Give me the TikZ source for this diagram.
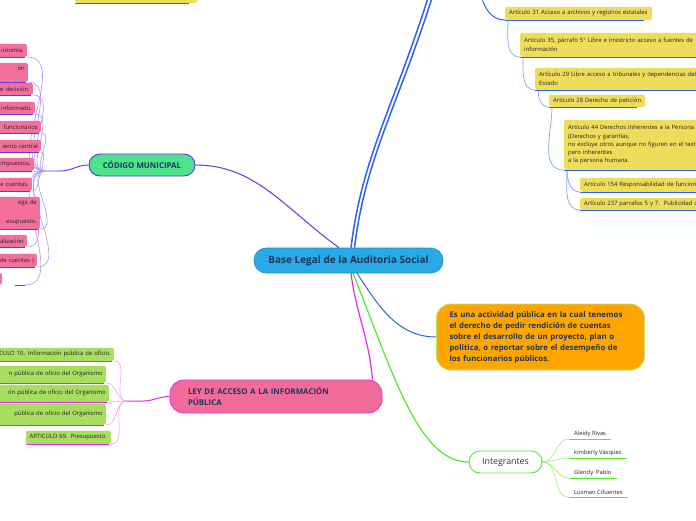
\documentclass[tikz,border=0pt]{standalone}
\usepackage{fontspec}
\setmainfont{Open Sans}
\usetikzlibrary{positioning, backgrounds}

\definecolor{rootblue}{HTML}{29A9E6}
\definecolor{roottext}{HTML}{1B365D}
\definecolor{codgreen}{HTML}{4EE28C}
\definecolor{codpurple}{HTML}{6A2FF0}
\definecolor{pinkleaf}{HTML}{F3709C}
\definecolor{pinkline}{HTML}{5A3CE8}
\definecolor{pinkconn}{HTML}{AE92FF}
\definecolor{leypink}{HTML}{F26C9A}
\definecolor{leymag}{HTML}{E42BE6}
\definecolor{greenleaf}{HTML}{A8DE5F}
\definecolor{magconn}{HTML}{F49CF4}
\definecolor{yellowleaf}{HTML}{EEDD5A}
\definecolor{blueline}{HTML}{2F62F2}
\definecolor{blueconn}{HTML}{7FA2F6}
\definecolor{orangebox}{HTML}{FFA500}
\definecolor{orangeedge}{HTML}{B8E36C}
\definecolor{intgreen}{HTML}{55E62E}
\definecolor{intconn}{HTML}{A6EE88}
\definecolor{leaftext}{HTML}{222222}
\definecolor{inttext}{HTML}{1E3F30}

\newcommand{\leaffont}{\fontsize{5.9}{9}\selectfont}

\begin{document}
\begin{tikzpicture}[x=1pt, y=-1pt,
  root/.style={fill=rootblue, draw=rootblue!85!black, line width=0.6pt, rounded corners=12pt,
               minimum width=189, minimum height=25, text=roottext,
               font=\fontsize{10}{12}\selectfont\bfseries},
  branch/.style={fill=#1, rounded corners=11pt, line width=0.9pt, minimum height=22,
                 text=roottext, font=\fontsize{7.9}{11}\selectfont\bfseries},
  pleaf/.style={fill=pinkleaf, rounded corners=2pt, inner xsep=3pt, inner ysep=0pt,
                text width=84, align=right, font=\leaffont, text=leaftext, anchor=south east},
  gleaf/.style={fill=greenleaf, rounded corners=2pt, inner xsep=3pt, inner ysep=0pt,
                text width=#1, align=right, font=\leaffont, text=leaftext, anchor=south east},
  gleaf/.default=150,
  yleaf/.style={fill=yellowleaf, rounded corners=2pt, inner xsep=4pt, inner ysep=0pt,
                text width=#1, align=left, font=\leaffont, text=leaftext, anchor=south west},
  mname/.style={inner xsep=5pt, inner ysep=2pt, anchor=south west, text=leaftext,
                font=\fontsize{5.8}{7}\selectfont},
  pline/.style={draw=pinkline, line width=0.9pt},
  gline/.style={draw=leymag, line width=0.9pt},
  yline/.style={draw=blueline, line width=0.9pt},
  nline/.style={draw=intgreen, line width=0.9pt},
  pconn/.style={draw=pinkconn, line width=0.6pt},
  gconn/.style={draw=magconn, line width=0.6pt},
  yconn/.style={draw=blueconn, line width=0.7pt},
  nconn/.style={draw=intconn, line width=0.7pt},
]
\useasboundingbox (0,0) rectangle (696,520);
\begin{scope}[on background layer]
  \fill[white] (0,0) rectangle (696,520);
\end{scope}

% --- Nodes ---

% Centre
\node[root] (root) at (348.5,260.5) {Base Legal de la Auditoria Social};

% Main branches
\node[branch=codgreen, draw=codpurple, minimum width=106] (cod) at (142,165) {CÓDIGO MUNICIPAL};
\node[branch=leypink, draw=leymag, minimum width=212, minimum height=33, rounded corners=14pt,
      text width=176, inner xsep=18pt, align=left] (ley) at (276,396.5)
  {LEY DE ACCESO A LA INFORMACIÓN\\PÚBLICA};
\node[fill=orangebox, draw=orangeedge, line width=0.8pt, rounded corners=14pt,
      minimum width=205, minimum height=66, text width=182, inner xsep=13pt, align=left,
      text=roottext, font=\fontsize{7.8}{11}\selectfont\bfseries] (def) at (540.5,337)
  {Es una actividad pública en la cual tenemos\\
   el derecho de pedir rendición de cuentas\\
   sobre el desarrollo de un proyecto, plan o\\
   política, o reportar sobre el desempeño de\\
   los funcionarios públicos.};
\node[branch=white, draw=intgreen, minimum width=73, text=inttext,
      font=\fontsize{8.8}{10}\selectfont] (integ) at (505.5,462) {Integrantes};

% Junctions and free ends
\coordinate (j1) at (45,171);
\coordinate (j1a) at (60,171);
\coordinate (j2) at (127,401);
\coordinate (j2a) at (143,401);
\coordinate (p12end) at (25,285);
\coordinate (ytop) at (482,-2);
\coordinate (up1) at (428,-2);
\coordinate (up2) at (432,-2);

% Código municipal leaves
\node[pleaf, minimum height=13] (p1) at (27,57) {onomía.};
\node[pleaf, minimum height=19] (p2) at (28,82) {ón\\\mbox{}};
\node[pleaf, minimum height=12] (p3) at (33,95) {e decisión.};
\node[pleaf, minimum height=12] (p4) at (35,114) {informado.};
\node[pleaf, minimum height=12] (p5) at (41,133) {funcionarios};
\node[pleaf, minimum height=12] (p6) at (41,152) {ierno central};
\node[pleaf, minimum height=13] (p7) at (34,171) {impuestos.};
\node[pleaf, minimum height=13] (p8) at (32,191) {e cuentas.};
\node[pleaf, minimum height=32, font=\fontsize{5.9}{9.5}\selectfont] (p9) at (40,229)
  {ega de\\\mbox{}\\esupuesto.};
\node[pleaf, minimum height=12] (p10) at (27,247) {alización};
\node[pleaf, minimum height=13] (p11) at (37,267) {de cuentas )};
\node[pleaf, minimum height=12] (p12) at (2,285) {};

% Ley de acceso leaves
\node[gleaf, minimum height=13] (g1) at (114,361) {ICULO 10. Información pública de oficio.};
\node[gleaf, minimum height=17] (g2) at (106,383) {n pública de oficio del Organismo};
\node[gleaf, minimum height=17] (g3) at (109,402) {ón pública de oficio del Organismo};
\node[gleaf, minimum height=21] (g4) at (106,425) {pública de oficio del Organismo};
\node[gleaf=79, minimum height=13, align=center] (g5) at (111,444) {ARTICULO 69. Presupuesto.};

% Constitution leaves
\node[yleaf=114, minimum height=14] (ytl) at (75,3) {};
\node[yleaf=139, minimum height=13] (y1) at (505,20) {Artículo 31 Acceso a archivos y registros estatales};
\node[yleaf=200, minimum height=24] (y2) at (520,57)
  {Artículo 35, párrafo 5° Libre e irrestricto acceso a fuentes de\\información};
\node[yleaf=200, minimum height=22] (y3) at (535,90)
  {Artículo 29 Libre acceso a tribunales y dependencias del\\Estado};
\node[yleaf=88, minimum height=12] (y4) at (549,107) {Artículo 28 Derecho de petición};
\node[yleaf=200, minimum height=50, font=\fontsize{5.9}{8.3}\selectfont] (y5) at (564,170)
  {Artículo 44 Derechos Inherentes a la Persona\\
   (Derechos y garantías,\\
   no excluye otros aunque no figuren en el texto\\
   pero inherentes\\
   a la persona humana.};
\node[yleaf=200, minimum height=14] (y6) at (580,192) {Artículo 154 Responsabilidad de funciona};
\node[yleaf=200, minimum height=12] (y7) at (580,210) {Artículo 237 parrafos 5 y 7.\ \ Publicidad de};

% Integrantes
\node[mname] (n1) at (569,439) {Aleidy Rivas};
\node[mname, below=19pt of n1.south west, anchor=south west] (n2) {kimberly Vásquez};
\node[mname, below=20pt of n2.south west, anchor=south west] (n3) {Glendy\ \ Pablo};
\node[mname, below=19pt of n3.south west, anchor=south west] (n4) {Lusman Cifuentes};

% --- Underlines ---
\foreach \n in {p1,p2,p3,p4,p5,p6,p7,p8,p9,p10,p11}
  \draw[pline] (\n.south west) -- ([xshift=-2pt]\n.south east);
\draw[pline] ([xshift=13pt]p12.south east) -- (p12end);
\foreach \n in {g1,g2,g3,g4,g5}
  \draw[gline] (\n.south west) -- ([xshift=-2pt]\n.south east);
\foreach \n in {ytl,y1,y2,y3,y4,y5,y6,y7}
  \draw[yline] (\n.south west) -- ([xshift=-8pt]\n.south east);
\foreach \n in {n1,n2,n3,n4}
  \draw[nline] (\n.south west) -- (\n.south east);

% --- Connectors ---
\begin{scope}[on background layer]
  % main branches
  \draw[codpurple, line width=1pt] ([xshift=-9.5pt]root.north)
    .. controls +(-55,-40) and +(60,0) .. (cod.east);
  \draw[blueline, line width=1.5pt] ([xshift=2.5pt]root.north)
    .. controls +(11,-90) and +(-35,110) .. (up1);
  \draw[blueline, line width=1.5pt] ([xshift=6pt]root.north)
    .. controls +(11,-90) and +(-35,110) .. (up2);
  \draw[blueline, line width=1pt] ([xshift=8.5pt]root.south)
    .. controls +(20,30) and +(-40,0) .. (def.west);
  \draw[intgreen, line width=1.2pt] ([xshift=4.5pt]root.south)
    .. controls +(40,100) and +(-50,0) .. (integ.west);
  \draw[leymag, line width=1.2pt] ([xshift=2.5pt]root.south)
    .. controls +(5,40) and +(-3,-40) .. ([xshift=-10pt]ley.north east);
  % código municipal
  \draw[codpurple, line width=0.9pt] (cod.west) to[out=180,in=0] (j1a) -- (j1);
  \foreach \n in {p1,p2,p3,p4,p5,p6,p7,p8,p9,p10,p11}
    \draw[pconn] (j1) to[out=180,in=0] (\n.south east);
  \draw[pconn] (j1) to[out=180,in=0] (p12end);
  % ley de acceso
  \draw[leymag, line width=1pt] (ley.west) to[out=180,in=0] (j2a) -- (j2);
  \foreach \n in {g1,g2,g3,g4,g5}
    \draw[gconn] (j2) to[out=180,in=0] (\n.south east);
  % constitution chain
  \draw[blueline, line width=1pt] (ytop) to[out=-75,in=180] (y1.south west);
  \draw[yconn] ([xshift=3pt]y1.south west) to[out=-90,in=180] (y2.south west);
  \draw[yconn] ([xshift=3pt]y2.south west) to[out=-90,in=180] (y3.south west);
  \draw[yconn] ([xshift=3pt]y3.south west) to[out=-90,in=180] (y4.south west);
  \draw[yconn] ([xshift=3pt]y4.south west) to[out=-90,in=180] (y5.south west);
  \draw[yconn] ([xshift=3pt]y5.south west) to[out=-90,in=180] (y6.south west);
  \draw[yconn] ([xshift=3pt]y5.south west) to[out=-90,in=180] (y7.south west);
  % integrantes
  \foreach \n in {n1,n2,n3,n4}
    \draw[nconn] (integ.east) to[out=0,in=180] (\n.south west);
\end{scope}

\end{tikzpicture}
\end{document}
